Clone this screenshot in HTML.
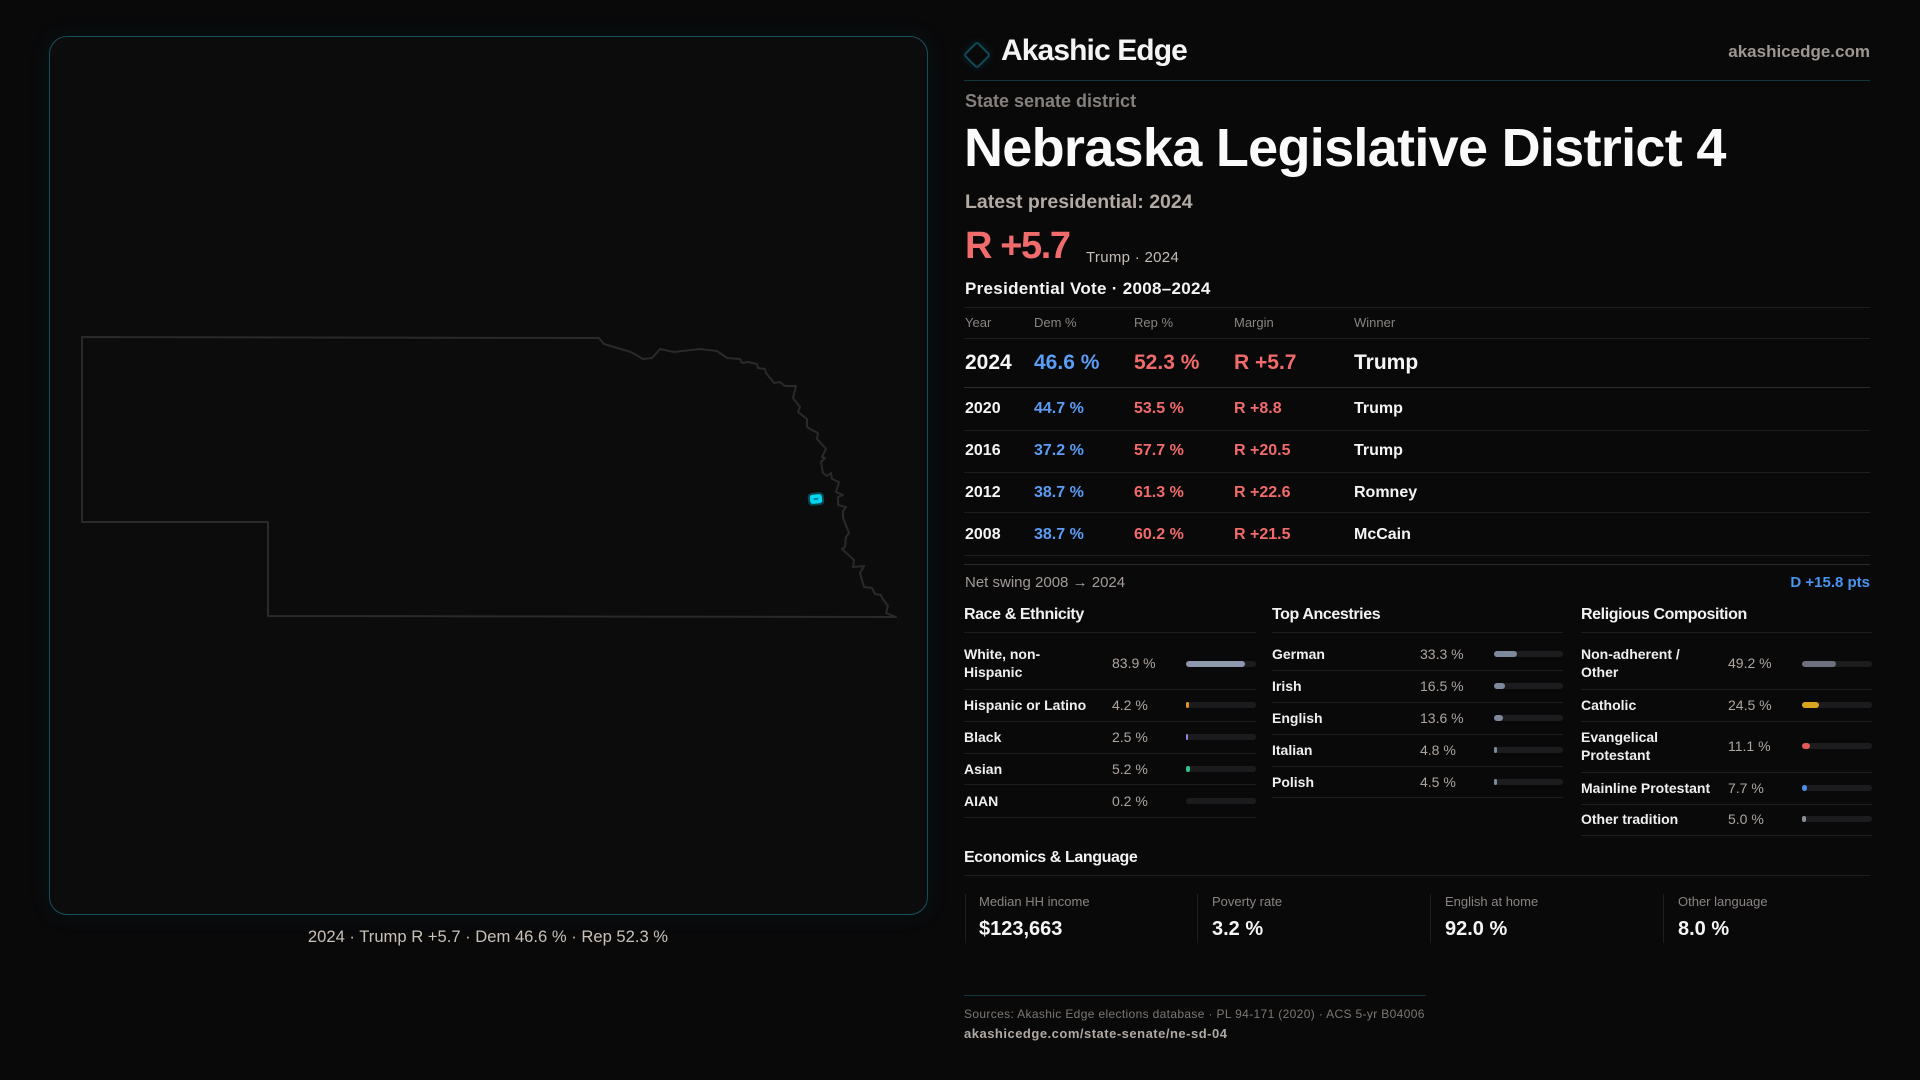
<!DOCTYPE html>
<html><head><meta charset="utf-8">
<style>
*{margin:0;padding:0;box-sizing:border-box}
html,body{width:1920px;height:1080px;background:#09090a;overflow:hidden}
body{position:relative;font-family:"Liberation Sans",sans-serif;color:#f2f2f2}
.a{position:absolute;white-space:nowrap}
.ln{position:absolute;height:1px;background:#1e1e20}
.b{font-weight:bold}
.panel{position:absolute;left:49px;top:36px;width:879px;height:879px;border:1px solid #17505b;border-radius:18px;background:#0c0c0d;box-shadow:0 0 22px rgba(20,110,130,0.12)}
.th{font-size:13px;line-height:13px;color:#8a8480;top:316px}
.r24{font-size:21px;line-height:21px;font-weight:bold;top:352px}
.rw{font-size:16px;line-height:16px;font-weight:bold}
.blue{color:#5b9cf5}.red{color:#f26b6b}.wh{color:#f5f5f5}
.sec{font-size:16px;line-height:16px;font-weight:bold;letter-spacing:-0.4px;top:607px;color:#f2f2f2}
.lab{font-size:14px;line-height:18px;font-weight:bold;color:#f0f0f0}
.val{font-size:14px;line-height:18px;color:#aea59f}
.trk{position:absolute;height:6px;border-radius:3px;background:#1c1c1f}
.fil{position:absolute;left:0;top:0;height:6px;border-radius:3px}
.el{font-size:13px;line-height:13px;color:#8a8480;top:895px}
.ev{font-size:20px;line-height:20px;font-weight:bold;color:#f5f5f5;top:919px}
.vb{position:absolute;top:894px;width:1px;height:49px;background:#1e1e20}
</style></head><body>

<div class="panel"></div>
<svg class="a" style="left:0;top:0" width="1920" height="1080" viewBox="0 0 1920 1080">
<path d="M82,337 L599,338 L604,344 L631,352 L643,359 L652,358 L660,349 L674,352 L700,349 L717,351 L727,358 L740,359 L742,363 L748,362 L757,364 L758,368 L765,369 L766,373 L774,383 L780,382 L785,386 L796,386 L793,398 L800,407 L798,412 L807,419 L807,427 L810,429 L818,433 L817,439 L826,449 L822,457 L825,458 L821,462 L823,473 L827,476 L831,473 L832,479 L839,482 L836,492 L843,495 L838,497 L838,505 L846,507 L843,511 L843,518 L849,533 L846,537 L845,547 L842,549 L854,560 L853,567 L864,566 L860,573 L864,587 L872,588 L875,594 L881,595 L882,598 L888,606 L886,613 L896,617 L268,616 L268,522 L82,522 Z" fill="none" stroke="#2a2a2c" stroke-width="2" stroke-linejoin="round"/>
<g transform="rotate(-6 816 499)">
<rect x="808" y="492.5" width="16" height="13" rx="4" fill="#0b4d58" opacity="0.9"/>
<rect x="810" y="494.5" width="12" height="9" rx="2.5" fill="#00d6f2"/>
<rect x="813.5" y="498" width="5" height="2" rx="1" fill="#0a7f95"/>
</g>
</svg>
<div class="a" style="left:0;width:976px;text-align:center;top:928px;font-size:16.6px;line-height:17px;color:#c9c0b8">2024 · Trump R +5.7 · Dem 46.6 % · Rep 52.3 %</div>

<!-- header -->
<div class="a" style="left:967px;top:45px;width:20px;height:20px;border:2.5px solid #0f4b56;border-radius:3px;transform:rotate(45deg);box-shadow:0 0 8px rgba(15,90,105,0.35)"></div>
<div class="a b" style="left:1001px;top:36px;font-size:30px;line-height:30px;letter-spacing:-0.9px;color:#f4f4f4">Akashic Edge</div>
<div class="a b" style="right:50px;top:43px;font-size:17px;line-height:17px;color:#9d9691">akashicedge.com</div>
<div class="ln" style="left:964px;width:906px;top:80px;background:#12363d"></div>

<div class="a b" style="left:965px;top:92px;font-size:18px;line-height:18px;color:#857f7b">State senate district</div>
<div class="a b" style="left:964px;top:121px;font-size:54px;line-height:54px;letter-spacing:-0.7px;color:#fafafa">Nebraska Legislative District 4</div>
<div class="a b" style="left:965px;top:192px;font-size:19.5px;line-height:20px;letter-spacing:0px;color:#b3aaa4">Latest presidential: 2024</div>
<div class="a b" style="left:965px;top:227px;font-size:38px;line-height:38px;letter-spacing:-1.4px;color:#f06b6b">R +5.7</div>
<div class="a" style="left:1086px;top:250px;font-size:15px;line-height:15px;letter-spacing:0.3px;color:#c4bcb6">Trump · 2024</div>
<div class="a b" style="left:965px;top:280px;font-size:17px;line-height:17px;letter-spacing:0.3px;color:#f5f5f5">Presidential Vote · 2008–2024</div>

<!-- table -->
<div class="ln" style="left:964px;width:906px;top:307px"></div>
<div class="a th" style="left:965px">Year</div>
<div class="a th" style="left:1034px">Dem %</div>
<div class="a th" style="left:1134px">Rep %</div>
<div class="a th" style="left:1234px">Margin</div>
<div class="a th" style="left:1354px">Winner</div>
<div class="ln" style="left:964px;width:906px;top:338px"></div>

<div class="a r24 wh" style="left:965px">2024</div>
<div class="a r24 blue" style="left:1034px">46.6 %</div>
<div class="a r24 red" style="left:1134px">52.3 %</div>
<div class="a r24 red" style="left:1234px">R +5.7</div>
<div class="a r24 wh" style="left:1354px">Trump</div>
<div class="ln" style="left:964px;width:906px;top:387px;background:#2c2c2e"></div>

<div class="a rw wh" style="left:965px;top:401px">2020</div>
<div class="a rw blue" style="left:1034px;top:401px">44.7 %</div>
<div class="a rw red" style="left:1134px;top:401px">53.5 %</div>
<div class="a rw red" style="left:1234px;top:401px">R +8.8</div>
<div class="a rw wh" style="left:1354px;top:401px">Trump</div>
<div class="ln" style="left:964px;width:906px;top:430px"></div>

<div class="a rw wh" style="left:965px;top:443px">2016</div>
<div class="a rw blue" style="left:1034px;top:443px">37.2 %</div>
<div class="a rw red" style="left:1134px;top:443px">57.7 %</div>
<div class="a rw red" style="left:1234px;top:443px">R +20.5</div>
<div class="a rw wh" style="left:1354px;top:443px">Trump</div>
<div class="ln" style="left:964px;width:906px;top:472px"></div>

<div class="a rw wh" style="left:965px;top:485px">2012</div>
<div class="a rw blue" style="left:1034px;top:485px">38.7 %</div>
<div class="a rw red" style="left:1134px;top:485px">61.3 %</div>
<div class="a rw red" style="left:1234px;top:485px">R +22.6</div>
<div class="a rw wh" style="left:1354px;top:485px">Romney</div>
<div class="ln" style="left:964px;width:906px;top:512px"></div>

<div class="a rw wh" style="left:965px;top:527px">2008</div>
<div class="a rw blue" style="left:1034px;top:527px">38.7 %</div>
<div class="a rw red" style="left:1134px;top:527px">60.2 %</div>
<div class="a rw red" style="left:1234px;top:527px">R +21.5</div>
<div class="a rw wh" style="left:1354px;top:527px">McCain</div>
<div class="ln" style="left:964px;width:906px;top:555px"></div>
<div class="ln" style="left:964px;width:906px;top:564px;background:#2a2a2c"></div>

<div class="a" style="left:965px;top:575px;font-size:15px;line-height:15px;color:#a29b96">Net swing 2008 → 2024</div>
<div class="a b" style="right:50px;top:575px;font-size:15px;line-height:15px;color:#4a95f0">D +15.8 pts</div>

<!-- Race -->
<div class="a sec" style="left:964px">Race &amp; Ethnicity</div>
<div class="ln" style="left:964px;width:292px;top:632px"></div>
<div class="a lab" style="left:964px;top:645px">White, non-<br>Hispanic</div>
<div class="a val" style="left:1112px;top:654px">83.9 %</div>
<div class="trk" style="left:1186px;width:70px;top:661px"><div class="fil" style="width:59px;background:#8c98ab"></div></div>
<div class="ln" style="left:964px;width:292px;top:689px"></div>
<div class="a lab" style="left:964px;top:696px">Hispanic or Latino</div>
<div class="a val" style="left:1112px;top:696px">4.2 %</div>
<div class="trk" style="left:1186px;width:70px;top:702px"><div class="fil" style="width:3px;background:#e0951a"></div></div>
<div class="ln" style="left:964px;width:292px;top:721px"></div>
<div class="a lab" style="left:964px;top:728px">Black</div>
<div class="a val" style="left:1112px;top:728px">2.5 %</div>
<div class="trk" style="left:1186px;width:70px;top:734px"><div class="fil" style="width:2px;background:#9b7fe6"></div></div>
<div class="ln" style="left:964px;width:292px;top:753px"></div>
<div class="a lab" style="left:964px;top:760px">Asian</div>
<div class="a val" style="left:1112px;top:760px">5.2 %</div>
<div class="trk" style="left:1186px;width:70px;top:766px"><div class="fil" style="width:4px;background:#2fbf8a"></div></div>
<div class="ln" style="left:964px;width:292px;top:784px"></div>
<div class="a lab" style="left:964px;top:792px">AIAN</div>
<div class="a val" style="left:1112px;top:792px">0.2 %</div>
<div class="trk" style="left:1186px;width:70px;top:798px"></div>
<div class="ln" style="left:964px;width:292px;top:817px"></div>

<!-- Ancestries -->
<div class="a sec" style="left:1272px">Top Ancestries</div>
<div class="ln" style="left:1272px;width:291px;top:632px"></div>
<div class="a lab" style="left:1272px;top:645px">German</div>
<div class="a val" style="left:1420px;top:645px">33.3 %</div>
<div class="trk" style="left:1494px;width:69px;top:651px"><div class="fil" style="width:23px;background:#7e8a9c"></div></div>
<div class="ln" style="left:1272px;width:291px;top:670px"></div>
<div class="a lab" style="left:1272px;top:677px">Irish</div>
<div class="a val" style="left:1420px;top:677px">16.5 %</div>
<div class="trk" style="left:1494px;width:69px;top:683px"><div class="fil" style="width:11px;background:#7e8a9c"></div></div>
<div class="ln" style="left:1272px;width:291px;top:702px"></div>
<div class="a lab" style="left:1272px;top:709px">English</div>
<div class="a val" style="left:1420px;top:709px">13.6 %</div>
<div class="trk" style="left:1494px;width:69px;top:715px"><div class="fil" style="width:9px;background:#7e8a9c"></div></div>
<div class="ln" style="left:1272px;width:291px;top:734px"></div>
<div class="a lab" style="left:1272px;top:741px">Italian</div>
<div class="a val" style="left:1420px;top:741px">4.8 %</div>
<div class="trk" style="left:1494px;width:69px;top:747px"><div class="fil" style="width:3px;background:#7e8a9c"></div></div>
<div class="ln" style="left:1272px;width:291px;top:766px"></div>
<div class="a lab" style="left:1272px;top:773px">Polish</div>
<div class="a val" style="left:1420px;top:773px">4.5 %</div>
<div class="trk" style="left:1494px;width:69px;top:779px"><div class="fil" style="width:3px;background:#7e8a9c"></div></div>
<div class="ln" style="left:1272px;width:291px;top:797px"></div>

<!-- Religion -->
<div class="a sec" style="left:1581px">Religious Composition</div>
<div class="ln" style="left:1581px;width:291px;top:632px"></div>
<div class="a lab" style="left:1581px;top:645px">Non-adherent /<br>Other</div>
<div class="a val" style="left:1728px;top:654px">49.2 %</div>
<div class="trk" style="left:1802px;width:70px;top:661px"><div class="fil" style="width:34px;background:#6b707c"></div></div>
<div class="ln" style="left:1581px;width:291px;top:689px"></div>
<div class="a lab" style="left:1581px;top:696px">Catholic</div>
<div class="a val" style="left:1728px;top:696px">24.5 %</div>
<div class="trk" style="left:1802px;width:70px;top:702px"><div class="fil" style="width:17px;background:#d9a521"></div></div>
<div class="ln" style="left:1581px;width:291px;top:721px"></div>
<div class="a lab" style="left:1581px;top:728px">Evangelical<br>Protestant</div>
<div class="a val" style="left:1728px;top:737px">11.1 %</div>
<div class="trk" style="left:1802px;width:70px;top:743px"><div class="fil" style="width:8px;background:#e05a5a"></div></div>
<div class="ln" style="left:1581px;width:291px;top:772px"></div>
<div class="a lab" style="left:1581px;top:779px">Mainline Protestant</div>
<div class="a val" style="left:1728px;top:779px">7.7 %</div>
<div class="trk" style="left:1802px;width:70px;top:785px"><div class="fil" style="width:5px;background:#4a8ee8"></div></div>
<div class="ln" style="left:1581px;width:291px;top:804px"></div>
<div class="a lab" style="left:1581px;top:810px">Other tradition</div>
<div class="a val" style="left:1728px;top:810px">5.0 %</div>
<div class="trk" style="left:1802px;width:70px;top:816px"><div class="fil" style="width:4px;background:#8a8f99"></div></div>
<div class="ln" style="left:1581px;width:291px;top:835px"></div>

<!-- Economics -->
<div class="a sec" style="left:964px;top:850px">Economics &amp; Language</div>
<div class="ln" style="left:964px;width:906px;top:875px"></div>
<div class="vb" style="left:965px"></div>
<div class="vb" style="left:1197px"></div>
<div class="vb" style="left:1430px"></div>
<div class="vb" style="left:1663px"></div>
<div class="a el" style="left:979px">Median HH income</div>
<div class="a ev" style="left:979px">$123,663</div>
<div class="a el" style="left:1212px">Poverty rate</div>
<div class="a ev" style="left:1212px">3.2 %</div>
<div class="a el" style="left:1445px">English at home</div>
<div class="a ev" style="left:1445px">92.0 %</div>
<div class="a el" style="left:1678px">Other language</div>
<div class="a ev" style="left:1678px">8.0 %</div>

<!-- Footer -->
<div class="ln" style="left:964px;width:462px;top:995px;background:#123640"></div>
<div class="a" style="left:964px;top:1008px;font-size:12px;line-height:12px;letter-spacing:0.35px;color:#7d7772">Sources: Akashic Edge elections database · PL 94-171 (2020) · ACS 5-yr B04006</div>
<div class="a b" style="left:964px;top:1027px;font-size:13px;line-height:13px;letter-spacing:0.5px;color:#b0a8a2">akashicedge.com/state-senate/ne-sd-04</div>

</body></html>
